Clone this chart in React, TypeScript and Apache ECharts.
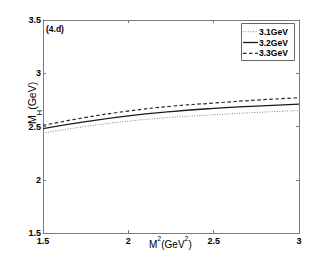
import React, { useEffect, useRef } from "react";
import * as echarts from "echarts";

const xValues = [1.5, 1.75, 2.0, 2.25, 2.5, 2.75, 3.0];
const s31 = [2.44, 2.50, 2.55, 2.585, 2.61, 2.632, 2.65];
const s32 = [2.48, 2.545, 2.60, 2.64, 2.67, 2.692, 2.71];
const s33 = [2.51, 2.585, 2.645, 2.69, 2.72, 2.748, 2.77];
const seriesNames = ["3.1GeV", "3.2GeV", "3.3GeV"];
const xTicks = [1.5, 2, 2.5, 3];
const yTicks = [1.5, 2, 2.5, 3, 3.5];

const FONT = "Liberation Sans";

export default function App() {
  const ref = useRef<HTMLDivElement>(null);
  useEffect(() => {
    document.body.style.margin = "0";
    if (!ref.current) return;
    const chart = echarts.init(ref.current, undefined, { renderer: "svg" });
    const pair = (ys: number[]) => xValues.map((x, i) => [x, ys[i]]);
    const axisCol = "#7a7a7a";
    const fmt = (v: number) => (Number.isInteger(v) ? String(v) : v.toFixed(1));
    const styles = [
      { color: "#8a8a8a", width: 1, dash: [1, 1.5] as number[] | null },
      { color: "#1a1a1a", width: 1.3, dash: null },
      { color: "#2a2a2a", width: 1.2, dash: [3.5, 2.5] },
    ];
    const seriesData = [s31, s32, s33];
    const legendTop = 23;
    const rowH = 10.8;
    const legendGraphics: any[] = [
      {
        type: "rect", shape: { x: 241.5, y: legendTop + 0.5, width: 53, height: 37 },
        style: { fill: "#fff", stroke: "#666", lineWidth: 1 }, z: 10,
      },
    ];
    seriesNames.forEach((n, i) => {
      const cy = legendTop + 8.7 + i * rowH;
      legendGraphics.push({
        type: "line", shape: { x1: 243, y1: cy, x2: 258, y2: cy },
        style: { stroke: styles[i].color, lineWidth: styles[i].width, lineDash: styles[i].dash || undefined },
        z: 11,
      });
      legendGraphics.push({
        type: "text", x: 259, y: cy, z: 11,
        style: {
          text: n, fontSize: 8.5, fontWeight: "bold", fill: "#000", fontFamily: FONT,
          verticalAlign: "middle", align: "left",
        },
      });
    });
    chart.setOption({
      animation: false,
      backgroundColor: "#ffffff",
      grid: { left: 43, top: 20, right: 32, bottom: 29, containLabel: false },
      xAxis: [
        {
          type: "value", min: 1.5, max: 3, interval: 0.5, position: "bottom",
          axisLine: { show: true, onZero: false, lineStyle: { color: axisCol, width: 1 } },
          axisTick: { show: true, inside: true, length: 3, lineStyle: { color: axisCol } },
          splitLine: { show: false },
          axisLabel: {
            margin: 3, color: "#000", fontSize: 9, fontWeight: "bold", fontFamily: FONT,
            formatter: (v: number) => (xTicks.includes(v) ? fmt(v) : ""),
          },
        },
        {
          type: "value", min: 1.5, max: 3, interval: 0.5, position: "top",
          axisLine: { show: true, onZero: false, lineStyle: { color: axisCol, width: 1 } },
          axisTick: { show: true, inside: true, length: 3, lineStyle: { color: axisCol } },
          splitLine: { show: false }, axisLabel: { show: false },
        },
      ],
      yAxis: [
        {
          type: "value", min: 1.5, max: 3.5, interval: 0.5, position: "left",
          axisLine: { show: true, onZero: false, lineStyle: { color: axisCol, width: 1 } },
          axisTick: { show: true, inside: true, length: 3, lineStyle: { color: axisCol } },
          splitLine: { show: false },
          axisLabel: {
            margin: 2, color: "#000", fontSize: 9, fontWeight: "bold", fontFamily: FONT,
            formatter: (v: number) => (yTicks.includes(v) ? fmt(v) : ""),
          },
        },
        {
          type: "value", min: 1.5, max: 3.5, interval: 0.5, position: "right",
          axisLine: { show: true, onZero: false, lineStyle: { color: axisCol, width: 1 } },
          axisTick: { show: true, inside: true, length: 3, lineStyle: { color: axisCol } },
          splitLine: { show: false }, axisLabel: { show: false },
        },
      ],
      series: seriesData.map((d, i) => ({
        name: seriesNames[i], type: "line", data: pair(d), showSymbol: false, symbol: "none", smooth: true,
        lineStyle: { color: styles[i].color, width: styles[i].width, type: styles[i].dash || "solid" },
        itemStyle: { color: styles[i].color },
      })),
      graphic: [
        {
          type: "text", left: 46, top: 24,
          style: { text: "(4.d)", fontSize: 8.5, fontWeight: "bold", fill: "#000", fontFamily: FONT },
        },
        {
          type: "text", x: 149, y: 235,
          style: {
            text: "{a|M}{s|2}{a|(GeV}{s|2}{a|)}",
            fill: "#000",
            rich: {
              a: { fontSize: 10, fontFamily: FONT, fill: "#000", verticalAlign: "bottom", lineHeight: 14 },
              s: { fontSize: 7, fontFamily: FONT, fill: "#000", verticalAlign: "top", lineHeight: 8 },
            },
          },
        },
        {
          type: "text", x: 26, y: 124, rotation: Math.PI / 2,
          style: {
            text: "{a|M}{s|H}{a|(GeV)}",
            fill: "#000",
            rich: {
              a: { fontSize: 10.5, fontFamily: FONT, fill: "#000", verticalAlign: "top", lineHeight: 13 },
              s: { fontSize: 7.5, fontFamily: FONT, fill: "#000", verticalAlign: "bottom", lineHeight: 17 },
            },
          },
        },
        ...legendGraphics,
      ],
    });
    return () => chart.dispose();
  }, []);
  return <div ref={ref} style={{ width: 331, height: 262 }} />;
}
